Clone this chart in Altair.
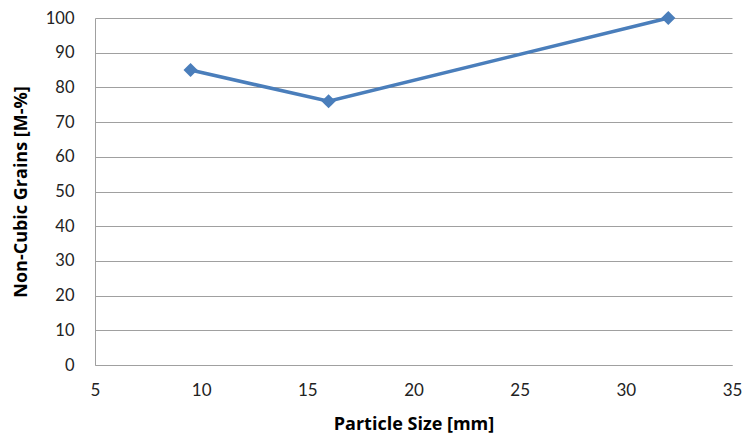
import altair as alt
import pandas as pd

particle_size = [9.5, 16, 32]
non_cubic = [85, 76, 100]
x_ticks = [5, 10, 15, 20, 25, 30, 35]
y_ticks = [0, 10, 20, 30, 40, 50, 60, 70, 80, 90, 100]

df = pd.DataFrame({"size": particle_size, "grains": non_cubic})

x = alt.X("size:Q", title="Particle Size [mm]",
          scale=alt.Scale(domain=[5, 35], nice=False, zero=False),
          axis=alt.Axis(values=x_ticks, grid=False, ticks=False,
                        domainColor="#a0a0a0", labelPadding=17,
                        titleY=59, titleBaseline="middle",
                        labelFontSize=17, titleFontSize=18, labelOverlap=False,
                        labelFlush=False))
y = alt.Y("grains:Q", title="Non-Cubic Grains [M-%]",
          scale=alt.Scale(domain=[0, 100], nice=False),
          axis=alt.Axis(values=y_ticks, grid=True, ticks=False,
                        gridColor="#a0a0a0", domainColor="#a0a0a0", labelPadding=21,
                        titleX=-74, titleBaseline="middle",
                        labelFontSize=16.5, titleFontSize=18,
                        labelOverlap=False, labelFlush=False))

base = alt.Chart(df).encode(x=x, y=y)
line = base.mark_line(color="#4A7EBB", strokeWidth=3.5)
pts = base.mark_point(shape="diamond", filled=True, opacity=1,
                      color="#4A7EBB", size=200)

chart = (line + pts).properties(
    width=637, height=347,
    autosize=alt.AutoSizeParams(type="none"),
    padding={"left": 87, "top": 10, "right": 10, "bottom": 72},
).configure_view(stroke=None).configure_axis(
    labelFont="Lato", titleFont="Open Sans", labelColor="#222222", titleColor="#000000",
    titleFontWeight="bold"
)

chart.save("out.html", embed_options={"renderer": "svg", "actions": False})
